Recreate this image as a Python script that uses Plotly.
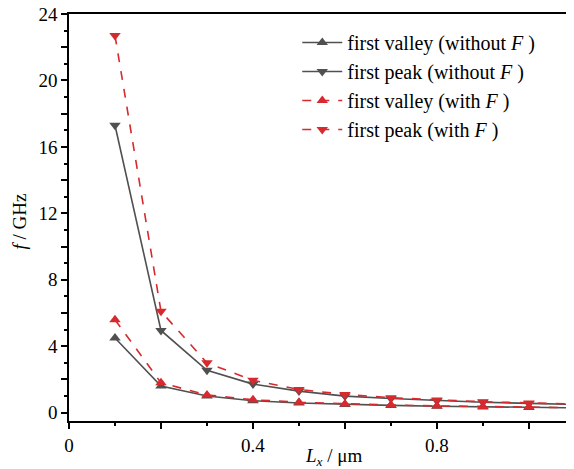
import plotly.graph_objects as go

lx = [0.1, 0.2, 0.3, 0.4, 0.5, 0.6, 0.7, 0.8, 0.9, 1.0, 1.1]
valley_noF = [4.5, 1.6, 1.0, 0.72, 0.58, 0.5, 0.44, 0.39, 0.35, 0.32, 0.29]
peak_noF = [17.3, 4.95, 2.55, 1.72, 1.3, 1.0, 0.85, 0.72, 0.63, 0.56, 0.5]
valley_F = [5.6, 1.8, 1.07, 0.78, 0.63, 0.53, 0.46, 0.41, 0.37, 0.34, 0.3]
peak_F = [22.7, 6.1, 3.0, 1.95, 1.4, 1.1, 0.9, 0.76, 0.66, 0.59, 0.52]

GRAY = "#505050"
RED = "#d62a2e"
FONT = "Liberation Serif, Times New Roman, serif"

fig = go.Figure()
series = [
    ("first valley (without <i>F</i> )", valley_noF, GRAY, "solid", "triangle-up"),
    ("first peak (without <i>F</i> )", peak_noF, GRAY, "solid", "triangle-down"),
    ("first valley (with <i>F</i> )", valley_F, RED, "dash", "triangle-up"),
    ("first peak (with <i>F</i> )", peak_F, RED, "dash", "triangle-down"),
]
for name, ys, col, dash, sym in series:
    fig.add_trace(go.Scatter(
        x=lx, y=ys, name=name, mode="lines+markers",
        line=dict(color=col, width=1.6, dash=dash),
        marker=dict(symbol=sym, size=10, color=col, line=dict(width=0)),
    ))

tick_common = dict(ticks="outside", ticklen=6, tickwidth=1.5, tickcolor="black",
                   showgrid=False, zeroline=False, automargin=False,
                   showline=True, linecolor="black", linewidth=1.5,
                   ticklabeloverflow="allow",
                   tickfont=dict(family=FONT, size=19, color="black"))

fig.update_xaxes(
    range=[0, 1.098], tickmode="linear", tick0=0, dtick=0.2, ticklabelstep=2,
    mirror=True,
    minor=dict(dtick=0.1, tick0=0, ticks="outside", ticklen=3, tickwidth=1.5, tickcolor="black"),
    **tick_common,
)
fig.update_yaxes(
    range=[-0.5, 24], tickmode="linear", tick0=0, dtick=2, ticklabelstep=2,
    minor=dict(dtick=1, tick0=0, ticks="outside", ticklen=3, tickwidth=1.5, tickcolor="black"),
    **tick_common,
)

# page has an 8px body margin: plot area 505x407 placed to land at (69,14) in the window
L, T, PW, PH = 61, 6, 505, 407
W, H = 574, 469

fig.add_annotation(
    text="<i>L<sub>x</sub></i> / μm", xref="paper", yref="paper",
    x=(333 - 69) / PW, y=-(457 - 421) / PH, xanchor="center", yanchor="middle",
    showarrow=False, font=dict(family=FONT, size=19, color="black"),
)
fig.add_annotation(
    text="<i>f</i> / GHz", xref="paper", yref="paper",
    x=(20 - 69) / PW, y=0.49, xanchor="center", yanchor="middle", textangle=-90,
    showarrow=False, font=dict(family=FONT, size=19, color="black"),
)

fig.update_layout(
    width=W, height=H,
    margin=dict(l=L, r=W - L - PW, t=T, b=H - T - PH, autoexpand=False),
    paper_bgcolor="white", plot_bgcolor="white",
    font=dict(family=FONT, color="black"),
    legend=dict(
        x=0.452, y=0.978, xanchor="left", yanchor="top",
        bgcolor="rgba(0,0,0,0)", borderwidth=0,
        font=dict(family=FONT, size=20, color="black"),
        itemwidth=40,
    ),
)

fig.write_html("out.html")
